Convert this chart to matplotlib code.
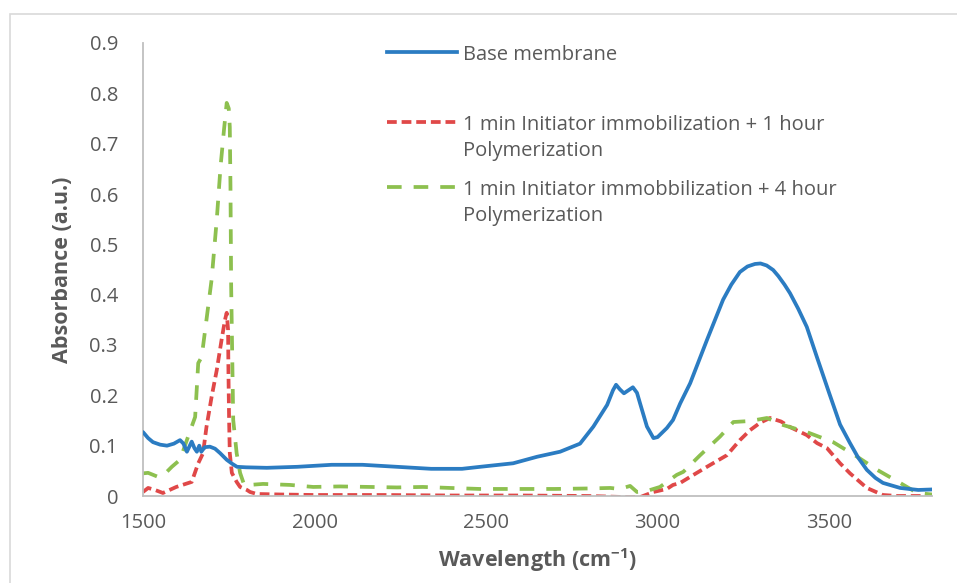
import matplotlib
matplotlib.use("Agg")
import matplotlib.pyplot as plt
from matplotlib.lines import Line2D
from matplotlib.patches import Rectangle

plt.rcParams['font.family'] = ['Open Sans', 'DejaVu Sans']
plt.rcParams['mathtext.fontset'] = 'custom'
plt.rcParams['mathtext.rm'] = 'Open Sans:bold'
plt.rcParams['mathtext.it'] = 'Open Sans:bold'
plt.rcParams['mathtext.bf'] = 'Open Sans:bold'

# --- data ---
base_wn = [1500, 1515, 1529, 1550, 1570, 1590, 1608, 1618, 1628, 1642, 1650, 1657,
           1664, 1670, 1680, 1695, 1710, 1725, 1744, 1760, 1774, 1800, 1861, 1950,
           2050, 2140, 2240, 2340, 2430, 2483, 2579, 2649, 2716, 2774, 2813, 2853,
           2870, 2879, 2890, 2902, 2915, 2928, 2940, 2949, 2969, 2988, 3000, 3027,
           3045, 3066, 3095, 3144, 3191, 3215, 3240, 3262, 3284, 3300, 3318, 3337,
           3352, 3370, 3386, 3410, 3435, 3465, 3500, 3532, 3561, 3585, 3610, 3635,
           3657, 3707, 3760, 3800]
base_abs = [0.127, 0.115, 0.107, 0.102, 0.100, 0.104, 0.111, 0.104, 0.088, 0.108, 0.095, 0.088,
            0.100, 0.088, 0.097, 0.098, 0.094, 0.085, 0.072, 0.064, 0.058, 0.057, 0.056, 0.058,
            0.062, 0.062, 0.058, 0.054, 0.054, 0.058, 0.065, 0.078, 0.088, 0.104, 0.138, 0.181,
            0.210, 0.221, 0.212, 0.204, 0.210, 0.216, 0.205, 0.184, 0.138, 0.115, 0.117, 0.135,
            0.151, 0.184, 0.224, 0.310, 0.390, 0.420, 0.445, 0.456, 0.461, 0.462, 0.458, 0.449,
            0.437, 0.420, 0.403, 0.372, 0.336, 0.275, 0.205, 0.142, 0.105, 0.076, 0.052, 0.036,
            0.026, 0.016, 0.012, 0.013]

h1_wn = [1500, 1515, 1535, 1558, 1597, 1642, 1661, 1675, 1685, 1700, 1715, 1729, 1739,
         1744, 1748, 1749, 1751, 1753, 1759, 1773, 1783, 1803, 1812, 1832, 1900, 2000,
         2200, 2400, 2600, 2800, 2900, 2950, 2988, 3027, 3045, 3066, 3095, 3144, 3202,
         3240, 3270, 3300, 3328, 3360, 3386, 3435, 3465, 3494, 3532, 3561, 3610, 3657,
         3700, 3800]
h1_abs = [0.008, 0.016, 0.012, 0.006, 0.018, 0.028, 0.065, 0.085, 0.137, 0.197, 0.250, 0.310, 0.350,
          0.364, 0.330, 0.250, 0.150, 0.085, 0.046, 0.028, 0.018, 0.012, 0.008, 0.004, 0.003, 0.002,
          0.002, 0.001, 0.001, 0.000, -0.002, -0.002, 0.008, 0.014, 0.022, 0.026, 0.038, 0.058, 0.081,
          0.111, 0.131, 0.146, 0.155, 0.148, 0.137, 0.121, 0.105, 0.095, 0.065, 0.045, 0.016, 0.002,
          0.000, 0.000]

h4_wn = [1500, 1515, 1544, 1565, 1584, 1608, 1633, 1652, 1661, 1671, 1685, 1700, 1715,
         1726, 1736, 1744, 1750, 1753, 1755, 1757, 1760, 1763, 1773, 1783, 1795, 1810,
         1850, 1929, 1996, 2074, 2162, 2240, 2316, 2395, 2482, 2600, 2700, 2800, 2862,
         2890, 2920, 2940, 2969, 3007, 3056, 3075, 3124, 3182, 3221, 3270, 3319, 3366,
         3435, 3512, 3582, 3640, 3707, 3757, 3800]
h4_abs = [0.045, 0.046, 0.038, 0.045, 0.058, 0.072, 0.121, 0.157, 0.264, 0.276, 0.350, 0.430, 0.549,
          0.654, 0.727, 0.781, 0.770, 0.733, 0.614, 0.416, 0.284, 0.151, 0.085, 0.046, 0.022, 0.022,
          0.024, 0.022, 0.018, 0.019, 0.018, 0.017, 0.018, 0.016, 0.014, 0.014, 0.014, 0.015, 0.016,
          0.014, 0.020, 0.008, 0.010, 0.018, 0.042, 0.048, 0.081, 0.118, 0.147, 0.149, 0.155, 0.141,
          0.127, 0.107, 0.078, 0.052, 0.026, 0.006, 0.003]

labels = ["Base membrane",
          "1 min Initiator immobilization + 1 hour\nPolymerization",
          "1 min Initiator immobbilization + 4 hour\nPolymerization"]
x_ticks = [1500, 2000, 2500, 3000, 3500]
y_ticks = [0, 0.1, 0.2, 0.3, 0.4, 0.5, 0.6, 0.7, 0.8, 0.9]

BLUE = '#2B7CC2'
RED = '#E04848'
GREEN = '#8DC04F'
GREY = '#595959'

W, H = 957, 583
fig = plt.figure(figsize=(W / 100, H / 100), dpi=100)
ax = fig.add_axes([143 / W, 1 - 496 / H, (932 - 143) / W, (496 - 43) / H])

lw = 2.7
red_dash = (2.6, 1.3)
green_dash = (3.9, 3.2)
ax.plot(base_wn, base_abs, color=BLUE, lw=lw, solid_capstyle='round', solid_joinstyle='round', zorder=3)
ax.plot(h1_wn, h1_abs, color=RED, lw=lw, dashes=red_dash, zorder=2)
ax.plot(h4_wn, h4_abs, color=GREEN, lw=lw, dashes=green_dash, zorder=2)

ax.set_xlim(1500, 3800)
ax.set_ylim(0, 0.9)
ax.set_xticks(x_ticks)
ax.set_yticks(y_ticks)
ax.set_yticklabels(['0' if v == 0 else f'{v:g}' for v in y_ticks])
ax.tick_params(axis='both', length=0, labelsize=14.5, labelcolor=GREY)
ax.tick_params(axis='y', pad=18)
ax.tick_params(axis='x', pad=12)
for side in ['top', 'right']:
    ax.spines[side].set_visible(False)
for side in ['left', 'bottom']:
    ax.spines[side].set_color('#BFBFBF')
    ax.spines[side].set_linewidth(1.3)

ax.set_xlabel('Wavelength (cm$^{-1}$)', fontsize=15.5, fontweight='bold', color=GREY, labelpad=10)
ax.set_ylabel('Absorbance (a.u.)', fontsize=15.5, fontweight='bold', color=GREY, labelpad=12)

# legend drawn like the Excel one: handle next to the first line of each label
leg_y = [52, 122, 187]
styles = [dict(color=BLUE), dict(color=RED, dashes=red_dash), dict(color=GREEN, dashes=green_dash)]
for lab, yy, st in zip(labels, leg_y, styles):
    fy = 1 - yy / H
    fig.add_artist(Line2D([387 / W, 457 / W], [fy, fy], transform=fig.transFigure, lw=lw, **st))
    fig.text(463 / W, 1 - (yy - 7) / H, lab, fontsize=14.5, color=GREY, va='top', ha='left',
             linespacing=1.4)

# chart area border (only left and top edges are inside the crop)
fig.add_artist(Rectangle((10 / W, -0.1), 1.2, 1.1 - 14 / H, transform=fig.transFigure,
                         fill=False, edgecolor='#D9D9D9', lw=1.2))

fig.savefig('out.png', dpi=100)
